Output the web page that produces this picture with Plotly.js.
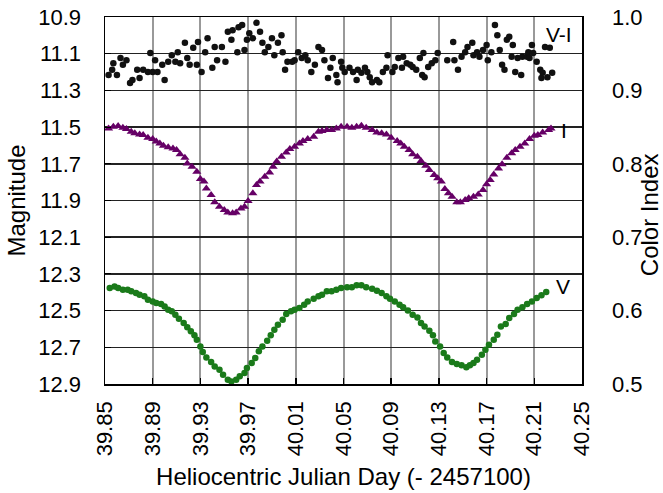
<!DOCTYPE html>
<html><head><meta charset="utf-8">
<script src="https://cdn.plot.ly/plotly-3.0.1.min.js"></script>
<style>html,body{margin:0;padding:0;background:#fff}#chart{width:663px;height:493px}</style>
</head><body><div id="chart"></div>
<script>
// V-I colour index (right axis)
const hjdVI = [39.853,39.856,39.857,39.860,39.863,39.865,39.868,39.871,39.873,39.877,39.879,39.882,39.886,39.888,39.890,39.892,39.894,39.898,39.900,39.903,39.906,39.909,39.911,39.913,39.917,39.919,39.921,39.924,39.927,39.928,39.931,39.934,39.936,39.940,39.942,39.944,39.948,39.951,39.953,39.956,39.957,39.961,39.962,39.965,39.967,39.969,39.971,39.974,39.977,39.980,39.982,39.984,39.987,39.990,39.992,39.995,39.998,39.999,40.001,40.003,40.007,40.009,40.012,40.015,40.018,40.020,40.023,40.026,40.029,40.032,40.034,40.037,40.039,40.041,40.044,40.045,40.048,40.049,40.051,40.055,40.058,40.061,40.062,40.065,40.068,40.070,40.072,40.074,40.078,40.080,40.083,40.086,40.087,40.091,40.093,40.096,40.099,40.100,40.103,40.106,40.108,40.111,40.114,40.116,40.117,40.118,40.121,40.124,40.127,40.129,40.137,40.142,40.143,40.146,40.149,40.152,40.154,40.158,40.159,40.162,40.164,40.167,40.170,40.171,40.174,40.177,40.179,40.181,40.183,40.185,40.187,40.189,40.191,40.192,40.194,40.196,40.199,40.200,40.204,40.205,40.206,40.208,40.209,40.212,40.215,40.216,40.217,40.219,40.221,40.223,40.225];
const colorVI = [0.921,0.928,0.937,0.921,0.944,0.935,0.941,0.910,0.914,0.928,0.917,0.928,0.925,0.951,0.925,0.941,0.925,0.935,0.914,0.939,0.948,0.939,0.952,0.937,0.965,0.944,0.935,0.958,0.935,0.966,0.925,0.952,0.971,0.931,0.959,0.941,0.959,0.939,0.980,0.969,0.982,0.952,0.986,0.989,0.955,0.969,0.978,0.971,0.992,0.980,0.965,0.952,0.959,0.971,0.948,0.965,0.975,0.952,0.928,0.939,0.939,0.941,0.952,0.944,0.948,0.941,0.925,0.935,0.959,0.955,0.941,0.917,0.931,0.944,0.921,0.911,0.939,0.931,0.925,0.931,0.925,0.914,0.928,0.924,0.931,0.925,0.918,0.911,0.914,0.911,0.925,0.931,0.948,0.925,0.932,0.944,0.931,0.946,0.937,0.935,0.932,0.928,0.944,0.921,0.951,0.918,0.932,0.937,0.941,0.951,0.941,0.966,0.941,0.928,0.946,0.952,0.959,0.965,0.948,0.952,0.946,0.955,0.962,0.941,0.952,0.989,0.975,0.955,0.935,0.928,0.969,0.973,0.946,0.962,0.925,0.944,0.921,0.946,0.946,0.952,0.944,0.962,0.951,0.939,0.928,0.917,0.924,0.959,0.918,0.958,0.924];

// I band magnitude
const hjdI = [39.853,39.857,39.861,39.865,39.868,39.872,39.875,39.879,39.882,39.886,39.890,39.893,39.896,39.899,39.903,39.907,39.910,39.913,39.917,39.919,39.923,39.927,39.930,39.933,39.935,39.939,39.942,39.946,39.950,39.953,39.957,39.960,39.964,39.967,39.970,39.974,39.977,39.980,39.984,39.988,39.991,39.994,39.998,40.002,40.005,40.009,40.013,40.016,40.020,40.025,40.029,40.032,40.036,
  40.040,40.044,40.048,40.053,40.057,40.061,40.065,40.069,40.074,40.078,40.082,40.086,40.090,40.095,40.098,40.101,40.105,40.108,40.112,40.115,40.119,40.122,40.126,40.129,40.132,40.135,40.138,40.141,40.145,40.148,40.152,40.155,40.159,40.163,40.167,40.170,40.173,40.176,40.180,40.183,40.187,40.191,40.194,40.198,40.202,40.206,40.210,40.213,40.217,40.222,40.224];
const magI = [11.507,11.498,11.494,11.503,11.510,11.525,11.534,11.540,11.543,11.558,11.565,11.579,11.589,11.601,11.610,11.616,11.625,11.648,11.667,11.698,11.716,11.743,11.783,11.797,11.834,11.870,11.910,11.934,11.952,11.965,11.970,11.965,11.943,11.934,11.903,11.861,11.816,11.797,11.770,11.747,11.716,11.688,11.661,11.638,11.619,11.607,11.589,11.576,11.565,11.552,11.525,11.521,11.516,
  11.516,11.507,11.498,11.498,11.503,11.498,11.492,11.503,11.516,11.529,11.534,11.540,11.558,11.576,11.589,11.607,11.625,11.648,11.661,11.685,11.710,11.734,11.761,11.779,11.797,11.837,11.861,11.879,11.910,11.910,11.897,11.888,11.879,11.867,11.843,11.812,11.788,11.758,11.725,11.703,11.667,11.643,11.625,11.607,11.589,11.565,11.547,11.543,11.529,11.516,11.507];

// V band magnitude
const hjdV = [39.854,39.858,39.861,39.865,39.869,39.872,39.876,39.879,39.883,39.886,39.890,39.893,39.897,39.900,39.903,39.906,39.909,39.912,39.916,39.919,39.922,39.925,39.927,39.930,39.932,39.935,39.939,39.942,39.946,39.949,39.953,39.956,39.960,39.963,39.967,39.969,39.973,39.976,39.979,39.982,39.986,39.989,39.992,39.995,39.999,40.002,40.006,40.009,40.013,40.017,40.020,40.025,40.029,40.032,40.036,
  40.040,40.044,40.048,40.053,40.057,40.061,40.065,40.069,40.074,40.078,40.082,40.086,40.089,40.093,40.097,40.100,40.104,40.108,40.112,40.115,40.118,40.122,40.125,40.127,40.131,40.134,40.137,40.141,40.145,40.149,40.153,40.156,40.159,40.162,40.166,40.169,40.172,40.176,40.179,40.182,40.186,40.189,40.193,40.196,40.200,40.204,40.208,40.212,40.216,40.220];
const magV = [12.377,12.368,12.377,12.386,12.386,12.395,12.404,12.413,12.422,12.441,12.450,12.459,12.464,12.477,12.495,12.504,12.522,12.544,12.568,12.591,12.613,12.635,12.659,12.695,12.726,12.755,12.780,12.804,12.822,12.849,12.877,12.886,12.877,12.858,12.840,12.813,12.786,12.758,12.722,12.695,12.664,12.635,12.604,12.577,12.550,12.519,12.504,12.495,12.486,12.468,12.450,12.435,12.422,12.413,12.395,
  12.395,12.386,12.377,12.373,12.373,12.362,12.362,12.373,12.381,12.392,12.404,12.422,12.435,12.450,12.468,12.482,12.500,12.522,12.537,12.568,12.586,12.610,12.635,12.668,12.695,12.731,12.755,12.780,12.791,12.798,12.809,12.798,12.786,12.768,12.740,12.713,12.686,12.659,12.631,12.586,12.573,12.541,12.519,12.495,12.482,12.464,12.450,12.431,12.417,12.399];

const xTicks = [39.85,39.89,39.93,39.97,40.01,40.05,40.09,40.13,40.17,40.21,40.25];
const xTickText = ["39.85","39.89","39.93","39.97","40.01","40.05","40.09","40.13","40.17","40.21","40.25"];
const magTicks = [10.9,11.1,11.3,11.5,11.7,11.9,12.1,12.3,12.5,12.7,12.9];
const ciTicks = [1.0,0.9,0.8,0.7,0.6,0.5];

const font = "Liberation Sans, Arial, sans-serif";
const traces = [
  {x: hjdVI, y: colorVI, yaxis: 'y2', mode: 'markers', type: 'scatter',
   marker: {color: '#111', size: 6.5, symbol: 'circle'}, name: 'V-I'},
  {x: hjdI, y: magI, mode: 'markers', type: 'scatter',
   marker: {color: '#660066', size: 8, symbol: 'triangle-up'}, name: 'I'},
  {x: hjdV, y: magV, mode: 'markers', type: 'scatter',
   marker: {color: '#1a7a1a', size: 6.5, symbol: 'circle'}, name: 'V'}
];
const layout = {
  width: 663, height: 493,
  margin: {l: 105, r: 81, t: 17, b: 109},
  paper_bgcolor: '#fff', plot_bgcolor: '#fff',
  showlegend: false,
  font: {family: font, size: 22, color: '#000'},
  xaxis: {
    range: [39.85, 40.25], tickvals: xTicks, ticktext: xTickText,
    tickangle: -90, ticks: 'inside', ticklen: 6, tickcolor: '#000', tickwidth: 1.5,
    showgrid: true, gridcolor: '#999', gridwidth: 2,
    showline: true, linecolor: '#000', linewidth: 1.5, mirror: true,
    zeroline: false, ticklabelstandoff: 7,
    title: {text: 'Heliocentric Julian Day (- 2457100)', font: {size: 24}, standoff: 13}
  },
  yaxis: {
    range: [12.9, 10.9], tickvals: magTicks, ticktext: magTicks.map(v => v.toFixed(1)),
    ticks: 'inside', ticklen: 6, tickcolor: '#000',
    showgrid: true, gridcolor: '#222', gridwidth: 1.5,
    showline: true, linecolor: '#000', linewidth: 1.5,
    zeroline: false, ticklabelstandoff: 18,
    title: {text: 'Magnitude', font: {size: 24}, standoff: 6}
  },
  yaxis2: {
    overlaying: 'y', side: 'right',
    range: [0.5, 1.0], tickvals: ciTicks, ticktext: ciTicks.map(v => v.toFixed(1)),
    ticks: '', showgrid: false,
    showline: true, linecolor: '#000', linewidth: 1.5,
    zeroline: false, ticklabelstandoff: 24
  },
  annotations: [
    {x: 40.231, y: 10.998, text: 'V-I', showarrow: false, font: {size: 21}},
    {x: 40.235, y: 11.516, text: 'I', showarrow: false, font: {size: 21}},
    {x: 40.234, y: 12.37, text: 'V', showarrow: false, font: {size: 21}},
    {xref: 'paper', yref: 'paper', x: 1.1405, y: 0.46, text: 'Color Index', textangle: -90,
     showarrow: false, font: {size: 24}, xanchor: 'center', yanchor: 'middle'}
  ]
};
Plotly.newPlot('chart', traces, layout, {displayModeBar: false, staticPlot: true});
</script></body></html>
